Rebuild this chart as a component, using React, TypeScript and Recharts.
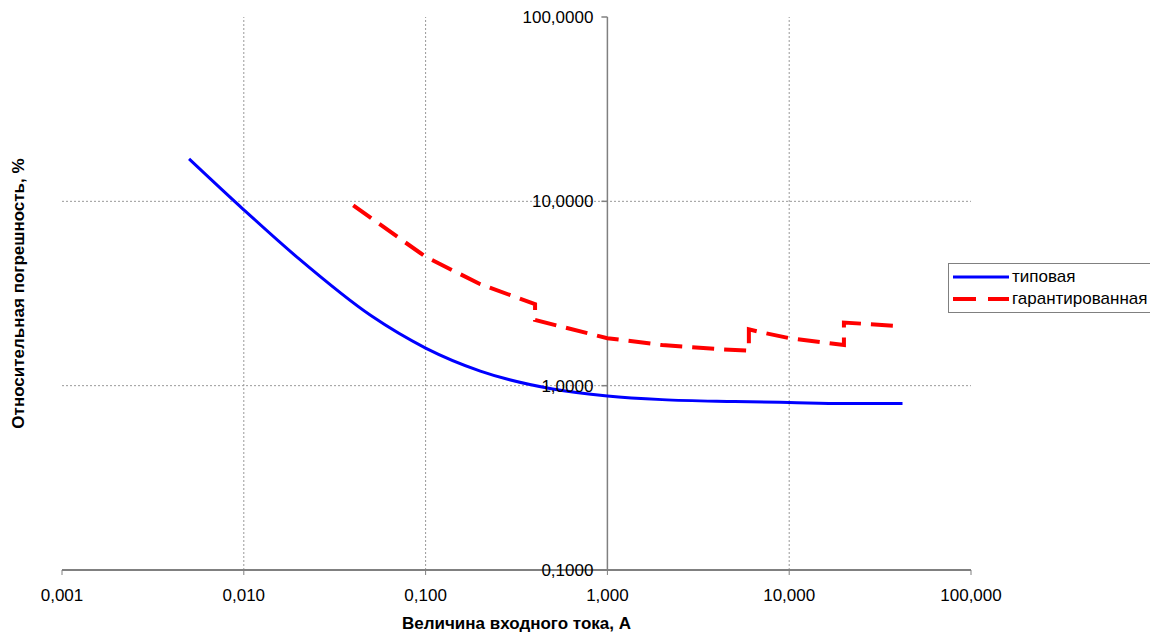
import { LineChart, Line, XAxis, YAxis, ReferenceLine, ReferenceDot } from 'recharts';

const xTicks = [0.001, 0.01, 0.1, 1, 10, 100];
const yTicks = [0.1, 1, 10, 100];
const xGrid = [0.01, 0.1, 10];
const yGrid = [1, 10];

// типовая
const typicalCurrent = [0.005, 0.01, 0.02, 0.05, 0.1, 0.2, 0.5, 1, 2, 5, 10, 20, 42];
const typicalError = [17, 9, 4.9, 2.4, 1.6, 1.2, 0.96, 0.88, 0.84, 0.82, 0.81, 0.8, 0.8];

// гарантированная (скачки при 0,4 / 6 / 20 А)
const guaranteedCurrent = [0.04, 0.1, 0.2, 0.4, 0.4, 1, 2, 4, 6, 6, 7, 10, 20, 20, 42];
const guaranteedError = [9.5, 5.0, 3.55, 2.77, 2.27, 1.81, 1.66, 1.58, 1.55, 2.02, 1.95, 1.81, 1.66, 2.2, 2.1];

const typical = typicalCurrent.map((x, i) => ({ x, y: typicalError[i] }));
const guaranteed = guaranteedCurrent.map((x, i) => ({ x, y: guaranteedError[i] }));

const FONT = '"Liberation Sans", Arial, sans-serif';
const fmtX = (v: number) => v.toFixed(3).replace('.', ',');
const fmtY = (v: number) => v.toFixed(4).replace('.', ',');

const YTitle = ({ viewBox }: any) => {
    const cx = 10;
    const cy = viewBox.y + viewBox.height / 2;
    return (
        <text x={cx} y={cy} transform={`rotate(-90 ${cx} ${cy})`} textAnchor="middle" dominantBaseline="central"
            fontSize={17} fontWeight="bold" fill="#000">
            Относительная погрешность, %
        </text>
    );
};

const YTick = (p: any) => (
    <line x1={p.cx - 6} x2={p.cx} y1={p.cy} y2={p.cy} stroke="#808080" strokeWidth={1.5} />
);

export default function App() {
    return (
        <div style={{ position: 'relative', width: 1150, height: 627, fontFamily: FONT }}>
            <LineChart width={1150} height={627} margin={{ top: 9, right: 187, bottom: 5, left: 0 }}>
                <XAxis dataKey="x" type="number" scale="log" domain={[0.001, 100]} ticks={xTicks} allowDataOverflow
                    tickFormatter={fmtX} height={60} tickSize={5} tickMargin={14}
                    axisLine={{ stroke: '#808080', strokeWidth: 2 }} tickLine={{ stroke: '#808080' }}
                    tick={{ fill: '#000', fontSize: 17 }}
                    label={{ value: 'Величина входного тока, А', position: 'insideBottom', offset: 1, fontSize: 17, fontWeight: 'bold', fill: '#000' }} />
                <YAxis dataKey="y" type="number" scale="log" domain={[0.1, 100]} ticks={yTicks} allowDataOverflow
                    width={54} axisLine={false} tick={false} tickLine={false}
                    label={{ content: YTitle }} />
                {xGrid.map(v => (
                    <ReferenceLine key={'gx' + v} x={v} stroke="#999" strokeDasharray="2 2" />
                ))}
                {yGrid.map(v => (
                    <ReferenceLine key={'gy' + v} y={v} stroke="#999" strokeDasharray="2 2" />
                ))}
                <ReferenceLine x={1} stroke="#808080" strokeWidth={1.5} />
                {yTicks.map(v => (
                    <ReferenceDot key={'ty' + v} x={1} y={v} r={0} shape={YTick}
                        label={{ value: fmtY(v), position: 'left', offset: 14, fontSize: 17, fill: '#000' }} />
                ))}
                <Line data={typical} dataKey="y" type="monotone" stroke="#0000ff" strokeWidth={3} dot={false} isAnimationActive={false} />
                <Line data={guaranteed} dataKey="y" type="linear" stroke="#ff0000" strokeWidth={4} strokeDasharray="22 10" dot={false} isAnimationActive={false} />
            </LineChart>
            <div style={{ position: 'absolute', left: 940, top: 255, width: 203, height: 48, border: '1px solid #808080', background: '#fff', fontSize: 17, lineHeight: '22px' }}>
                <div style={{ display: 'flex', alignItems: 'center', height: 22, marginTop: 2 }}>
                    <svg width={59} height={10} style={{ marginLeft: 4, flex: 'none' }}>
                        <line x1={0} x2={56} y1={5} y2={5} stroke="#0000ff" strokeWidth={3} />
                    </svg>
                    <span>типовая</span>
                </div>
                <div style={{ display: 'flex', alignItems: 'center', height: 22 }}>
                    <svg width={59} height={10} style={{ marginLeft: 4, flex: 'none' }}>
                        <line x1={0} x2={56} y1={5} y2={5} stroke="#ff0000" strokeWidth={4} strokeDasharray="23 12" />
                    </svg>
                    <span style={{ whiteSpace: 'nowrap' }}>гарантированная</span>
                </div>
            </div>
        </div>
    );
}
